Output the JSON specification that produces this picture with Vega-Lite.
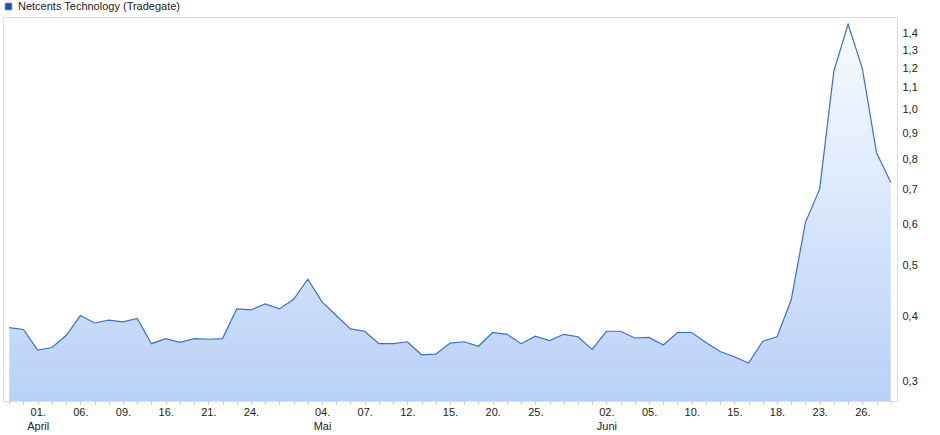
{
  "$schema": "https://vega.github.io/schema/vega-lite/v6.json",
  "width": 894,
  "height": 384,
  "autosize": {"type": "none"},
  "padding": {"left": 3, "top": 17, "right": 43, "bottom": 34},
  "background": "white",
  "config": {
    "view": {"stroke": "#dddddd", "strokeWidth": 1},
    "font": "Liberation Sans"
  },
  "data": {
    "values": [
      {"date": "2020-03-30", "close": 0.380, "series": "Netcents Technology (Tradegate)"},
      {"date": "2020-03-31", "close": 0.377, "series": "Netcents Technology (Tradegate)"},
      {"date": "2020-04-01", "close": 0.344, "series": "Netcents Technology (Tradegate)"},
      {"date": "2020-04-02", "close": 0.348, "series": "Netcents Technology (Tradegate)"},
      {"date": "2020-04-03", "close": 0.367, "series": "Netcents Technology (Tradegate)"},
      {"date": "2020-04-06", "close": 0.401, "series": "Netcents Technology (Tradegate)"},
      {"date": "2020-04-07", "close": 0.388, "series": "Netcents Technology (Tradegate)"},
      {"date": "2020-04-08", "close": 0.393, "series": "Netcents Technology (Tradegate)"},
      {"date": "2020-04-09", "close": 0.390, "series": "Netcents Technology (Tradegate)"},
      {"date": "2020-04-14", "close": 0.396, "series": "Netcents Technology (Tradegate)"},
      {"date": "2020-04-15", "close": 0.354, "series": "Netcents Technology (Tradegate)"},
      {"date": "2020-04-16", "close": 0.362, "series": "Netcents Technology (Tradegate)"},
      {"date": "2020-04-17", "close": 0.356, "series": "Netcents Technology (Tradegate)"},
      {"date": "2020-04-20", "close": 0.362, "series": "Netcents Technology (Tradegate)"},
      {"date": "2020-04-21", "close": 0.361, "series": "Netcents Technology (Tradegate)"},
      {"date": "2020-04-22", "close": 0.362, "series": "Netcents Technology (Tradegate)"},
      {"date": "2020-04-23", "close": 0.413, "series": "Netcents Technology (Tradegate)"},
      {"date": "2020-04-24", "close": 0.411, "series": "Netcents Technology (Tradegate)"},
      {"date": "2020-04-27", "close": 0.422, "series": "Netcents Technology (Tradegate)"},
      {"date": "2020-04-28", "close": 0.413, "series": "Netcents Technology (Tradegate)"},
      {"date": "2020-04-29", "close": 0.431, "series": "Netcents Technology (Tradegate)"},
      {"date": "2020-04-30", "close": 0.471, "series": "Netcents Technology (Tradegate)"},
      {"date": "2020-05-04", "close": 0.426, "series": "Netcents Technology (Tradegate)"},
      {"date": "2020-05-05", "close": 0.401, "series": "Netcents Technology (Tradegate)"},
      {"date": "2020-05-06", "close": 0.378, "series": "Netcents Technology (Tradegate)"},
      {"date": "2020-05-07", "close": 0.374, "series": "Netcents Technology (Tradegate)"},
      {"date": "2020-05-08", "close": 0.354, "series": "Netcents Technology (Tradegate)"},
      {"date": "2020-05-11", "close": 0.354, "series": "Netcents Technology (Tradegate)"},
      {"date": "2020-05-12", "close": 0.357, "series": "Netcents Technology (Tradegate)"},
      {"date": "2020-05-13", "close": 0.337, "series": "Netcents Technology (Tradegate)"},
      {"date": "2020-05-14", "close": 0.338, "series": "Netcents Technology (Tradegate)"},
      {"date": "2020-05-15", "close": 0.355, "series": "Netcents Technology (Tradegate)"},
      {"date": "2020-05-18", "close": 0.357, "series": "Netcents Technology (Tradegate)"},
      {"date": "2020-05-19", "close": 0.350, "series": "Netcents Technology (Tradegate)"},
      {"date": "2020-05-20", "close": 0.372, "series": "Netcents Technology (Tradegate)"},
      {"date": "2020-05-21", "close": 0.369, "series": "Netcents Technology (Tradegate)"},
      {"date": "2020-05-22", "close": 0.354, "series": "Netcents Technology (Tradegate)"},
      {"date": "2020-05-25", "close": 0.366, "series": "Netcents Technology (Tradegate)"},
      {"date": "2020-05-26", "close": 0.359, "series": "Netcents Technology (Tradegate)"},
      {"date": "2020-05-27", "close": 0.369, "series": "Netcents Technology (Tradegate)"},
      {"date": "2020-05-28", "close": 0.365, "series": "Netcents Technology (Tradegate)"},
      {"date": "2020-05-29", "close": 0.345, "series": "Netcents Technology (Tradegate)"},
      {"date": "2020-06-02", "close": 0.374, "series": "Netcents Technology (Tradegate)"},
      {"date": "2020-06-03", "close": 0.374, "series": "Netcents Technology (Tradegate)"},
      {"date": "2020-06-04", "close": 0.363, "series": "Netcents Technology (Tradegate)"},
      {"date": "2020-06-05", "close": 0.364, "series": "Netcents Technology (Tradegate)"},
      {"date": "2020-06-08", "close": 0.352, "series": "Netcents Technology (Tradegate)"},
      {"date": "2020-06-09", "close": 0.372, "series": "Netcents Technology (Tradegate)"},
      {"date": "2020-06-10", "close": 0.372, "series": "Netcents Technology (Tradegate)"},
      {"date": "2020-06-11", "close": 0.356, "series": "Netcents Technology (Tradegate)"},
      {"date": "2020-06-12", "close": 0.342, "series": "Netcents Technology (Tradegate)"},
      {"date": "2020-06-15", "close": 0.334, "series": "Netcents Technology (Tradegate)"},
      {"date": "2020-06-16", "close": 0.325, "series": "Netcents Technology (Tradegate)"},
      {"date": "2020-06-17", "close": 0.358, "series": "Netcents Technology (Tradegate)"},
      {"date": "2020-06-18", "close": 0.365, "series": "Netcents Technology (Tradegate)"},
      {"date": "2020-06-19", "close": 0.430, "series": "Netcents Technology (Tradegate)"},
      {"date": "2020-06-22", "close": 0.606, "series": "Netcents Technology (Tradegate)"},
      {"date": "2020-06-23", "close": 0.702, "series": "Netcents Technology (Tradegate)"},
      {"date": "2020-06-24", "close": 1.185, "series": "Netcents Technology (Tradegate)"},
      {"date": "2020-06-25", "close": 1.457, "series": "Netcents Technology (Tradegate)"},
      {"date": "2020-06-26", "close": 1.199, "series": "Netcents Technology (Tradegate)"},
      {"date": "2020-06-29", "close": 0.825, "series": "Netcents Technology (Tradegate)"},
      {"date": "2020-06-30", "close": 0.724, "series": "Netcents Technology (Tradegate)"}
    ]
  },
  "encoding": {
    "x": {
      "field": "date",
      "type": "ordinal",
      "scale": {"type": "point", "padding": 0.44},
      "axis": {
        "title": null,
        "labelAngle": 0,
        "domain": false,
        "tickSize": 3,
        "tickColor": "#cccccc",
        "labelFontSize": 11,
        "labelColor": "#222222",
        "labelPadding": 2,
        "labelLineHeight": 14,
        "labelOverlap": false,
        "labelBound": false,
        "labelExpr": "indexof(['2020-04-01','2020-05-04','2020-06-02'], datum.value) >= 0 ? [substring(datum.value,8,10) + '.', datum.value == '2020-04-01' ? 'April' : (datum.value == '2020-05-04' ? 'Mai' : 'Juni')] : (indexof(['2020-04-06','2020-04-09','2020-04-16','2020-04-21','2020-04-24','2020-05-07','2020-05-12','2020-05-15','2020-05-20','2020-05-25','2020-06-05','2020-06-10','2020-06-15','2020-06-18','2020-06-23','2020-06-26'], datum.value) >= 0 ? substring(datum.value,8,10) + '.' : '')"
      }
    },
    "y": {
      "field": "close",
      "type": "quantitative",
      "scale": {"type": "log", "domain": [0.2746, 1.505], "nice": false},
      "axis": {
        "orient": "right",
        "title": null,
        "values": [0.3, 0.4, 0.5, 0.6, 0.7, 0.8, 0.9, 1.0, 1.1, 1.2, 1.3, 1.4],
        "labelExpr": "replace(format(datum.value, '.1f'), '.', ',')",
        "ticks": false,
        "domain": false,
        "grid": false,
        "labelPadding": 5,
        "labelFontSize": 11,
        "labelColor": "#222222",
        "labelOverlap": false
      }
    }
  },
  "layer": [
    {
      "mark": {
        "type": "area",
        "color": {
          "gradient": "linear",
          "x1": 0, "y1": 0, "x2": 0, "y2": 1,
          "stops": [
            {"offset": 0, "color": "#f8fbff"},
            {"offset": 1, "color": "#b9d1f7"}
          ]
        }
      },
      "encoding": {
        "y2": {"datum": 0.2746}
      }
    },
    {
      "mark": {"type": "line", "strokeWidth": 1.2},
      "encoding": {
        "color": {
          "field": "series",
          "type": "nominal",
          "scale": {"range": ["#3a6fd0"]},
          "legend": {
            "orient": "none",
            "legendX": 0,
            "legendY": -16,
            "title": null,
            "padding": 0,
            "symbolType": "square",
            "symbolSize": 42,
            "labelFontSize": 11,
            "labelColor": "#222222",
            "labelOffset": 4,
            "labelLimit": 400,
            "encode": {
              "symbols": {
                "update": {
                  "fill": {"value": "#1d50b0"},
                  "stroke": {"value": "#0c2c6a"},
                  "strokeWidth": {"value": 1}
                }
              }
            }
          }
        }
      }
    }
  ]
}
